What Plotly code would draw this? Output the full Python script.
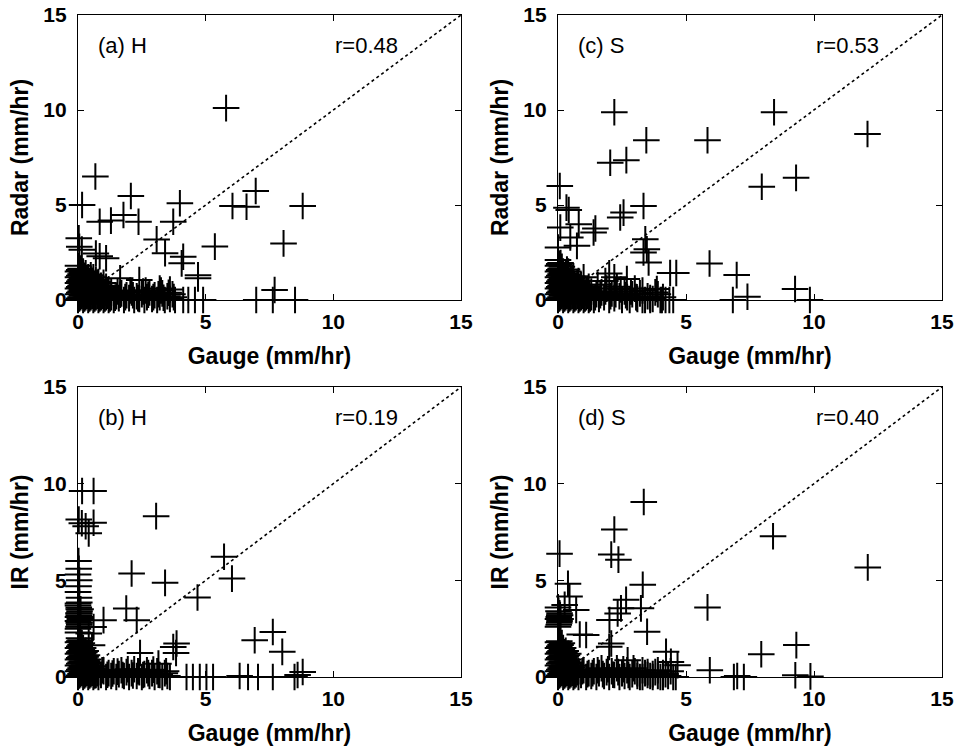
import plotly.graph_objects as go

# ---------------- data (gauge, estimate) pairs ----------------
points_a = [  # (a) H : Gauge vs Radar, scattered crosses
    (5.8, 10.1), (0.68, 6.5), (0.16, 5.0), (2.07, 5.47), (3.99, 5.09), (6.96, 5.74),
    (6.05, 4.95), (6.6, 4.91), (8.8, 4.95), (0.85, 4.12), (1.29, 4.18), (1.78, 4.47),
    (2.37, 4.12), (3.73, 4.12), (3.08, 3.19), (5.36, 2.81), (8.05, 2.98), (3.41, 2.46),
    (4.12, 2.28), (4.06, 1.93), (0.03, 3.25), (0.05, 2.8), (0.15, 2.65), (0.7, 2.45),
    (0.85, 2.3), (1.1, 2.2), (4.7, 1.3), (4.7, 1.14), (2.4, 1.05), (7.7, 0.53),
    (1.65, 1.14), (3.2, 0.6), (3.6, 0.55),
    (4.12, 0.0), (4.32, 0.0), (4.58, 0.0), (4.9, 0.0), (6.98, 0.0), (7.63, 0.0), (8.5, 0.0),
]
cluster_a = [  # dense region near the origin
    (0.0, 0.0), (0.0, 0.3), (0.0, 0.6), (0.0, 0.9), (0.0, 1.2), (0.0, 1.5), (0.0, 1.8),
    (0.1, 0.15), (0.1, 0.45), (0.1, 0.75), (0.1, 1.05), (0.1, 1.35), (0.1, 1.65),
    (0.2, 0.0), (0.2, 0.3), (0.2, 0.6), (0.2, 0.9), (0.2, 1.2), (0.2, 1.5),
    (0.3, 0.15), (0.3, 0.45), (0.3, 0.75), (0.3, 1.05), (0.3, 1.4),
    (0.4, 0.0), (0.4, 0.3), (0.4, 0.6), (0.4, 0.9), (0.4, 1.2),
    (0.5, 0.15), (0.5, 0.45), (0.5, 0.75), (0.5, 1.1), (0.5, 1.3),
    (0.6, 0.0), (0.6, 0.3), (0.6, 0.6), (0.6, 0.9), (0.6, 1.2),
    (0.7, 0.15), (0.7, 0.45), (0.7, 0.8), (0.7, 1.05),
    (0.8, 0.0), (0.8, 0.3), (0.8, 0.6), (0.8, 0.95),
    (0.9, 0.15), (0.9, 0.45), (0.9, 0.75),
    (1.0, 0.0), (1.0, 0.3), (1.0, 0.6), (1.0, 0.9),
    (1.1, 0.15), (1.1, 0.45), (1.1, 0.7),
    (1.2, 0.0), (1.2, 0.3), (1.2, 0.55), (1.3, 0.15), (1.3, 0.4),
    (1.4, 0.0), (1.5, 0.2), (1.6, 0.1), (1.7, 0.35), (1.8, 0.0), (1.9, 0.25), (2.0, 0.1),
    (2.1, 0.4), (2.2, 0.0), (2.3, 0.2), (2.4, 0.05), (2.5, 0.3), (2.6, 0.0), (2.7, 0.15),
    (2.8, 0.4), (2.9, 0.05), (3.0, 0.25), (3.1, 0.0), (3.2, 0.15), (3.3, 0.35), (3.4, 0.0),
    (3.5, 0.2), (3.6, 0.05), (3.7, 0.3), (3.8, 0.0), (1.55, 0.45), (2.05, 0.5), (2.65, 0.5),
    (3.25, 0.5),
]
cluster_a_fill = [
    (0.05, 0.08), (0.05, 0.38), (0.05, 0.68), (0.05, 0.98), (0.05, 1.28), (0.05, 1.58),
    (0.15, 0.22), (0.15, 0.52), (0.15, 0.82), (0.15, 1.12), (0.15, 1.42),
    (0.25, 0.08), (0.25, 0.38), (0.25, 0.68), (0.25, 0.98), (0.25, 1.28),
    (0.35, 0.22), (0.35, 0.52), (0.35, 0.82), (0.35, 1.12),
    (0.45, 0.08), (0.45, 0.38), (0.45, 0.68), (0.45, 0.98),
    (0.55, 0.22), (0.55, 0.52), (0.55, 0.82), (0.55, 1.0),
    (0.65, 0.08), (0.65, 0.38), (0.65, 0.68), (0.75, 0.22), (0.75, 0.52), (0.75, 0.9),
    (0.85, 0.08), (0.85, 0.38), (0.85, 0.7), (0.95, 0.22), (0.95, 0.52),
    (1.05, 0.08), (1.05, 0.38), (1.15, 0.22), (1.15, 0.5), (1.25, 0.08),
    (1.45, 0.12), (1.65, 0.28), (1.85, 0.15), (2.15, 0.25), (2.35, 0.1), (2.55, 0.45),
    (2.75, 0.28), (2.95, 0.15), (3.15, 0.3), (3.35, 0.12), (3.55, 0.38), (3.75, 0.15),
]

points_b = [  # (b) H : Gauge vs IR
    (0.16, 9.62), (0.61, 9.62), (0.03, 8.15), (0.15, 7.95), (0.61, 7.98), (0.42, 7.43),
    (0.3, 7.8), (3.06, 8.32), (5.72, 6.22), (6.03, 5.09), (2.1, 5.35), (3.41, 4.87),
    (4.68, 4.11),
    (0.02, 6.0), (0.03, 5.6), (0.0, 5.3), (0.05, 5.0), (0.02, 4.7), (0.0, 4.4), (0.04, 4.1),
    (0.0, 3.8), (0.03, 3.5), (0.05, 3.3), (0.0, 3.1), (0.06, 2.8), (0.02, 2.6), (0.0, 2.3),
    (0.04, 2.0),
    (1.89, 3.54), (2.3, 2.94), (1.0, 2.94), (0.61, 2.59), (0.42, 2.25), (0.55, 1.64),
    (7.63, 2.33), (6.92, 1.9), (8.0, 1.3), (3.86, 1.73), (3.73, 1.55), (3.84, 1.24),
    (2.43, 1.24), (3.15, 0.69), (8.8, 0.26), (8.6, 0.1),
    (4.25, 0.0), (4.5, 0.0), (4.77, 0.0), (5.03, 0.0), (5.29, 0.0), (6.33, 0.05), (6.66, 0.0),
    (7.05, 0.0), (7.63, 0.0), (8.48, 0.0),
]
cluster_b = [
    (0.0, 0.0), (0.0, 0.3), (0.0, 0.6), (0.0, 0.9), (0.0, 1.2), (0.0, 1.5), (0.0, 1.8),
    (0.1, 0.15), (0.1, 0.45), (0.1, 0.75), (0.1, 1.05), (0.1, 1.35), (0.1, 1.65), (0.1, 1.9),
    (0.2, 0.0), (0.2, 0.3), (0.2, 0.6), (0.2, 0.9), (0.2, 1.2), (0.2, 1.5),
    (0.3, 0.15), (0.3, 0.45), (0.3, 0.75), (0.3, 1.05), (0.3, 1.35),
    (0.4, 0.0), (0.4, 0.3), (0.4, 0.6), (0.4, 0.9),
    (0.5, 0.15), (0.5, 0.45), (0.5, 0.75),
    (0.6, 0.0), (0.6, 0.3), (0.6, 0.55),
    (0.7, 0.1), (0.7, 0.4), (0.8, 0.0), (0.8, 0.25), (0.9, 0.1), (1.0, 0.3),
    (0.0, 2.5), (0.05, 2.7), (0.0, 2.9), (0.08, 3.1), (0.02, 3.3), (0.1, 3.5), (0.0, 3.7),
    (0.05, 3.85),
    (1.1, 0.0), (1.2, 0.2), (1.3, 0.05), (1.4, 0.3), (1.5, 0.0), (1.6, 0.15), (1.7, 0.35),
    (1.8, 0.05), (1.9, 0.25), (2.0, 0.0), (2.1, 0.2), (2.2, 0.4), (2.3, 0.05), (2.4, 0.25),
    (2.5, 0.0), (2.6, 0.15), (2.7, 0.35), (2.8, 0.05), (2.9, 0.2), (3.0, 0.0), (3.1, 0.3),
    (3.2, 0.1), (3.3, 0.0), (3.4, 0.2), (3.5, 0.05), (3.6, 0.0),
]
cluster_b_fill = [
    (0.05, 0.08), (0.05, 0.38), (0.05, 0.68), (0.05, 0.98), (0.05, 1.28), (0.05, 1.58),
    (0.05, 1.85), (0.15, 0.22), (0.15, 0.52), (0.15, 0.82), (0.15, 1.12), (0.15, 1.42),
    (0.15, 1.75), (0.25, 0.08), (0.25, 0.38), (0.25, 0.68), (0.25, 0.98), (0.25, 1.28),
    (0.35, 0.22), (0.35, 0.52), (0.35, 0.82), (0.35, 1.12),
    (0.45, 0.08), (0.45, 0.38), (0.45, 0.68), (0.55, 0.22), (0.55, 0.45),
    (0.65, 0.08), (0.65, 0.3),
    (0.05, 2.6), (0.03, 2.8), (0.07, 3.0), (0.03, 3.2), (0.06, 3.4), (0.03, 3.6),
    (0.75, 0.2), (0.95, 0.35), (1.15, 0.12), (1.35, 0.18), (1.55, 0.28), (1.75, 0.1),
    (1.95, 0.4), (2.15, 0.08), (2.35, 0.3), (2.55, 0.1), (2.75, 0.2), (2.95, 0.38),
    (3.15, 0.12), (3.45, 0.3),
]

points_c = [  # (c) S : Gauge vs Radar
    (2.2, 9.88), (8.44, 9.88), (12.09, 8.74), (3.45, 8.41), (5.84, 8.41), (2.04, 7.22),
    (2.67, 7.36), (9.3, 6.43), (7.96, 5.96), (0.07, 6.0), (0.33, 4.86), (0.42, 4.74),
    (3.34, 4.95), (2.56, 4.6), (2.43, 4.34), (0.81, 3.99), (0.09, 3.81), (1.46, 3.76),
    (1.39, 3.55), (0.48, 3.29), (0.74, 2.85), (0.0, 2.76), (3.41, 3.2), (3.47, 2.67),
    (3.34, 2.5), (3.54, 1.98), (5.92, 1.92), (6.98, 1.31), (4.38, 1.42), (4.62, 1.42),
    (9.26, 0.58), (7.4, 0.17), (6.83, 0.0), (9.84, 0.0), (3.86, 0.58), (3.08, 0.14),
    (2.69, 1.1), (2.2, 1.2),
    (4.06, 0.0), (4.2, 0.0), (4.35, 0.0), (4.5, 0.0), (3.3, 0.0), (3.6, 0.0),
]
cluster_c = [
    (0.0, 0.0), (0.0, 0.3), (0.0, 0.6), (0.0, 0.9), (0.0, 1.2), (0.0, 1.5), (0.0, 1.8),
    (0.0, 2.1), (0.1, 0.15), (0.1, 0.45), (0.1, 0.75), (0.1, 1.05), (0.1, 1.35), (0.1, 1.65),
    (0.1, 1.95), (0.2, 0.0), (0.2, 0.3), (0.2, 0.6), (0.2, 0.9), (0.2, 1.2), (0.2, 1.5),
    (0.3, 0.15), (0.3, 0.45), (0.3, 0.75), (0.3, 1.05), (0.3, 1.35),
    (0.4, 0.0), (0.4, 0.3), (0.4, 0.6), (0.4, 0.9), (0.4, 1.2), (0.4, 1.5),
    (0.5, 0.15), (0.5, 0.45), (0.5, 0.75), (0.5, 1.05),
    (0.6, 0.0), (0.6, 0.3), (0.6, 0.6), (0.6, 0.9), (0.6, 1.25),
    (0.7, 0.15), (0.7, 0.45), (0.7, 0.75),
    (0.8, 0.0), (0.8, 0.3), (0.8, 0.6), (0.8, 1.0),
    (0.9, 0.15), (0.9, 0.45), (0.9, 0.8),
    (1.0, 0.0), (1.0, 0.3), (1.0, 0.6), (1.0, 1.2),
    (1.1, 0.15), (1.1, 0.5), (1.2, 0.0), (1.2, 0.3), (1.2, 0.7), (1.3, 0.15), (1.3, 0.45),
    (1.4, 0.0), (1.5, 0.3), (1.6, 0.05), (1.7, 0.4), (1.8, 0.15), (1.9, 0.6), (2.0, 0.0),
    (2.1, 0.35), (2.2, 0.1), (2.3, 0.7), (2.4, 0.2), (2.5, 0.0), (2.6, 0.45), (2.7, 0.15),
    (2.8, 0.0), (2.9, 0.3), (3.0, 0.6), (3.1, 0.05), (3.2, 0.35), (3.4, 0.0), (3.5, 0.2),
    (3.7, 0.05), (3.9, 0.3), (4.0, 0.0), (4.1, 0.15), (1.55, 0.8), (1.85, 1.0), (2.0, 1.4),
]
cluster_c_fill = [
    (0.05, 0.08), (0.05, 0.38), (0.05, 0.68), (0.05, 0.98), (0.05, 1.28), (0.05, 1.58),
    (0.05, 1.9), (0.15, 0.22), (0.15, 0.52), (0.15, 0.82), (0.15, 1.12), (0.15, 1.42),
    (0.15, 1.75), (0.25, 0.08), (0.25, 0.38), (0.25, 0.68), (0.25, 0.98), (0.25, 1.28),
    (0.35, 0.22), (0.35, 0.52), (0.35, 0.82), (0.35, 1.12), (0.35, 1.6),
    (0.45, 0.08), (0.45, 0.38), (0.45, 0.68), (0.45, 0.98),
    (0.55, 0.22), (0.55, 0.52), (0.55, 0.82), (0.55, 1.15),
    (0.65, 0.08), (0.65, 0.38), (0.65, 0.68), (0.75, 0.22), (0.75, 0.52), (0.75, 0.9),
    (0.85, 0.08), (0.85, 0.38), (0.85, 0.7), (0.95, 0.22), (0.95, 0.52),
    (1.05, 0.08), (1.05, 0.38), (1.15, 0.22), (1.15, 0.6), (1.25, 0.08),
    (1.45, 0.15), (1.65, 0.25), (1.85, 0.45), (2.05, 0.2), (2.25, 0.3), (2.45, 0.55),
    (2.65, 0.25), (2.85, 0.45), (3.05, 0.15), (3.3, 0.5), (3.6, 0.1), (3.8, 0.4),
]

points_d = [  # (d) S : Gauge vs IR
    (3.35, 9.05), (2.2, 7.63), (2.08, 6.33), (2.36, 6.07), (0.06, 6.38), (8.4, 7.28),
    (12.1, 5.67), (0.39, 4.82), (3.31, 4.77), (0.45, 4.16), (0.26, 3.73), (2.66, 3.99),
    (2.46, 3.55), (2.33, 3.29), (3.24, 3.55), (5.84, 3.6), (0.71, 3.47), (0.0, 3.6),
    (0.05, 3.2), (0.1, 3.0), (2.01, 2.95), (1.1, 2.17), (0.85, 2.2), (3.48, 2.34),
    (2.08, 1.73), (2.0, 1.56), (9.31, 1.65), (7.94, 1.18), (4.22, 1.3), (4.41, 0.78),
    (4.67, 0.61), (2.72, 0.87), (5.93, 0.35), (9.27, 0.09), (9.86, 0.03), (6.87, 0.0),
    (7.26, 0.0), (7.0, 0.05),
    (3.1, 0.05), (3.3, 0.0), (3.5, 0.1), (3.7, 0.0), (3.9, 0.05), (4.1, 0.0), (4.3, 0.05),
    (4.6, 0.0),
]
cluster_d = [
    (0.0, 0.0), (0.0, 0.3), (0.0, 0.6), (0.0, 0.9), (0.0, 1.2), (0.0, 1.5), (0.0, 1.8),
    (0.1, 0.15), (0.1, 0.45), (0.1, 0.75), (0.1, 1.05), (0.1, 1.35), (0.1, 1.65),
    (0.2, 0.0), (0.2, 0.3), (0.2, 0.6), (0.2, 0.9), (0.2, 1.2), (0.2, 1.5),
    (0.3, 0.15), (0.3, 0.45), (0.3, 0.75), (0.3, 1.05), (0.3, 1.35),
    (0.4, 0.0), (0.4, 0.3), (0.4, 0.6), (0.4, 0.9), (0.4, 1.2),
    (0.5, 0.15), (0.5, 0.45), (0.5, 0.75),
    (0.6, 0.0), (0.6, 0.3), (0.6, 0.6),
    (0.7, 0.15), (0.7, 0.4), (0.8, 0.0), (0.8, 0.3), (0.9, 0.1), (1.0, 0.35), (1.1, 0.0),
    (0.0, 2.6), (0.05, 2.8), (0.0, 3.0), (0.08, 3.2), (0.02, 3.4),
    (1.2, 0.2), (1.3, 0.05), (1.4, 0.3), (1.5, 0.0), (1.6, 0.2), (1.7, 0.45), (1.8, 0.05),
    (1.9, 0.25), (2.0, 0.0), (2.1, 0.3), (2.2, 0.1), (2.3, 0.45), (2.4, 0.0), (2.5, 0.2),
    (2.6, 0.05), (2.7, 0.35), (2.8, 0.0), (2.9, 0.15), (3.0, 0.3), (3.2, 0.0), (3.4, 0.2),
    (3.6, 0.05), (3.8, 0.25), (4.0, 0.0), (4.2, 0.15), (4.4, 0.3), (4.5, 0.0),
]
cluster_d_fill = [
    (0.05, 0.08), (0.05, 0.38), (0.05, 0.68), (0.05, 0.98), (0.05, 1.28), (0.05, 1.58),
    (0.05, 1.85), (0.15, 0.22), (0.15, 0.52), (0.15, 0.82), (0.15, 1.12), (0.15, 1.42),
    (0.15, 1.75), (0.25, 0.08), (0.25, 0.38), (0.25, 0.68), (0.25, 0.98), (0.25, 1.28),
    (0.35, 0.22), (0.35, 0.52), (0.35, 0.82), (0.35, 1.12),
    (0.45, 0.08), (0.45, 0.38), (0.45, 0.68), (0.55, 0.22), (0.55, 0.5),
    (0.65, 0.08), (0.65, 0.3),
    (0.03, 2.7), (0.06, 2.9), (0.03, 3.1), (0.06, 3.3),
    (0.75, 0.25), (0.95, 0.3), (1.15, 0.15), (1.35, 0.2), (1.55, 0.35), (1.75, 0.15),
    (1.95, 0.4), (2.15, 0.12), (2.35, 0.25), (2.55, 0.4), (2.75, 0.1), (2.95, 0.45),
    (3.1, 0.2), (3.3, 0.35), (3.5, 0.25), (3.7, 0.15), (3.9, 0.35), (4.1, 0.2),
]

panel_labels = ["(a) H", "(b) H", "(c) S", "(d) S"]
r_labels = ["r=0.48", "r=0.19", "r=0.53", "r=0.40"]
y_titles = ["Radar (mm/hr)", "IR (mm/hr)", "Radar (mm/hr)", "IR (mm/hr)"]
x_title = "Gauge (mm/hr)"
tick_vals = [0, 5, 10, 15]
one_to_one = [0, 15]
axis_range = [0, 15]

FONT = "Liberation Sans, Arial, Helvetica, sans-serif"

fig = go.Figure()

# panel order: a (top-left), b (bottom-left), c (top-right), d (bottom-right)
all_points = [points_a + cluster_a + cluster_a_fill,
              points_b + cluster_b + cluster_b_fill,
              points_c + cluster_c + cluster_c_fill,
              points_d + cluster_d + cluster_d_fill]
axis_ids = [("x", "y"), ("x3", "y3"), ("x2", "y2"), ("x4", "y4")]

for pts, (xa, ya), lab, rl in zip(all_points, axis_ids, panel_labels, r_labels):
    xs = [p[0] for p in pts]
    ys = [p[1] for p in pts]
    fig.add_trace(go.Scatter(
        x=one_to_one, y=one_to_one, mode="lines", xaxis=xa, yaxis=ya,
        line=dict(color="black", width=1.6, dash="dot"), showlegend=False, hoverinfo="skip"))
    fig.add_trace(go.Scatter(
        x=xs, y=ys, mode="markers", xaxis=xa, yaxis=ya, cliponaxis=False,
        marker=dict(symbol="cross-thin", size=19, line=dict(color="black", width=2)),
        showlegend=False))
    fig.add_annotation(x=0.7, y=13.4, xref=xa, yref=ya, text=lab, showarrow=False,
                       xanchor="left", yanchor="middle",
                       font=dict(family=FONT, size=22, color="black"))
    fig.add_annotation(x=12.6, y=13.4, xref=xa, yref=ya, text=rl, showarrow=False,
                       xanchor="right", yanchor="middle",
                       font=dict(family=FONT, size=22, color="black"))

W, H = 960, 751
xdom_left = [78 / W, 461 / W]
xdom_right = [558 / W, 942 / W]
ydom_top = [1 - 300 / H, 1 - 15 / H]
ydom_bot = [1 - 677 / H, 1 - 387 / H]

common = dict(range=axis_range, tickvals=tick_vals, ticks="inside", ticklen=6,
              tickwidth=1, tickcolor="black", showline=True, linecolor="black",
              linewidth=1.2, mirror="ticks", showgrid=False, zeroline=False,
              automargin=False, ticklabeloverflow="allow",
              tickfont=dict(family=FONT, size=21, color="black", weight="bold"))
title_font = dict(family=FONT, size=23, color="black", weight="bold")

layout_axes = {}
specs = [
    ("xaxis", "yaxis", xdom_left, ydom_top, "x", "y", y_titles[0]),
    ("xaxis3", "yaxis3", xdom_left, ydom_bot, "x3", "y3", y_titles[1]),
    ("xaxis2", "yaxis2", xdom_right, ydom_top, "x2", "y2", y_titles[2]),
    ("xaxis4", "yaxis4", xdom_right, ydom_bot, "x4", "y4", y_titles[3]),
]
for xk, yk, xd, yd, xid, yid, yt in specs:
    layout_axes[xk] = dict(common, domain=xd, anchor=yid, ticklabelstandoff=3,
                           title=dict(text=x_title, font=title_font, standoff=15))
    layout_axes[yk] = dict(common, domain=yd, anchor=xid, ticklabelstandoff=6,
                           title=dict(text=yt, font=title_font, standoff=8))

fig.update_layout(
    width=W, height=H, margin=dict(l=0, r=0, t=0, b=0),
    paper_bgcolor="white", plot_bgcolor="white",
    font=dict(family=FONT, color="black"),
    **layout_axes,
)

# remove the browser's default 8 px body margin so the figure sits at the page origin
fig.write_html("out.html",
               config={"displayModeBar": False, "staticPlot": True},
               post_script="document.body.style.margin='0';document.body.style.overflow='hidden';")
